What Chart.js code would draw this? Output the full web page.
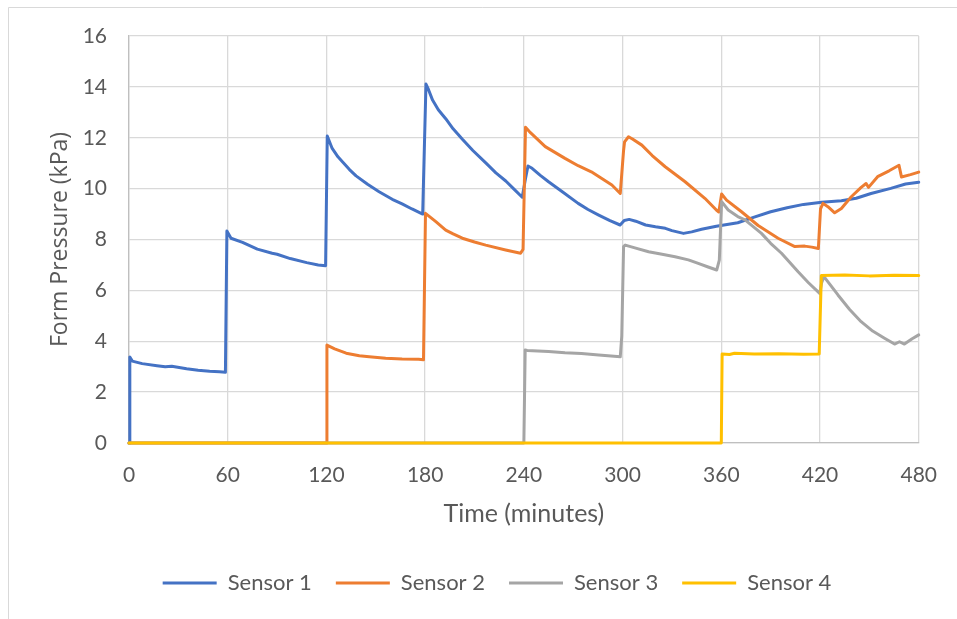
<!DOCTYPE html>
<html>
<head>
<meta charset="utf-8">
<title>Form Pressure</title>
<script src="https://cdn.jsdelivr.net/npm/chart.js@4.4.1/dist/chart.umd.min.js"></script>
<style>
  html, body { margin: 0; padding: 0; background: #ffffff; }
  #wrap { position: relative; width: 957px; height: 619px; }
  canvas { display: block; }
</style>
</head>
<body>
<div id="wrap"><canvas id="chart" width="957" height="619"></canvas></div>
<script>
// Form pressure readings, [time in minutes, pressure in kPa]
const sensor1 = [
  [0, 0], [0.5, 3.38], [2, 3.22], [8, 3.12], [17, 3.04], [22, 3.0], [26, 3.02], [35, 2.92],
  [42, 2.86], [49, 2.82], [55, 2.8], [58.6, 2.78],
  [59.5, 8.33], [62, 8.05], [69, 7.89], [78, 7.62], [87, 7.46], [90, 7.42], [98, 7.25],
  [108, 7.09], [115, 7.0], [119.5, 6.97],
  [120.5, 12.07], [123.5, 11.58], [127, 11.25], [130, 11.04], [134, 10.75], [138, 10.5],
  [145, 10.17], [152, 9.88], [160, 9.58], [166, 9.4], [172, 9.2], [178.5, 9.0],
  [180.5, 14.11], [182, 13.9], [184.5, 13.48], [188, 13.1], [192.5, 12.75], [197, 12.35],
  [202.5, 11.95], [209, 11.5], [217, 11.0], [223, 10.62], [229, 10.3], [234, 9.98], [239, 9.66],
  [241, 10.4], [242.5, 10.89], [245, 10.8], [250, 10.52], [255, 10.27], [264, 9.85], [273, 9.42],
  [279, 9.18], [285.5, 8.96], [292, 8.75], [298.5, 8.57], [301, 8.75], [304, 8.79], [308, 8.72],
  [314, 8.57], [320, 8.5], [326, 8.44], [330, 8.35], [337, 8.24], [342, 8.3], [348, 8.4], [357, 8.52],
  [370, 8.66], [380, 8.88], [390, 9.09], [400, 9.25], [410, 9.38], [421, 9.46],
  [433, 9.52], [442, 9.62], [451, 9.81], [463, 10.01], [472, 10.18], [480, 10.25]
];
const sensor2 = [
  [0, 0], [120, 0], [120.3, 3.85], [125, 3.7], [132, 3.53], [140, 3.43], [146, 3.39],
  [156, 3.33], [166, 3.3], [176, 3.29], [179, 3.27],
  [180.2, 9.03], [186.5, 8.7], [192.5, 8.37], [197, 8.22], [202.6, 8.05], [210, 7.9],
  [216.8, 7.78], [228.9, 7.59], [238, 7.46], [239.5, 7.61],
  [241, 12.41], [244, 12.2], [253, 11.65], [265, 11.19], [273, 10.9], [281, 10.66],
  [293.5, 10.14], [298.6, 9.81],
  [300.6, 11.5], [301.2, 11.84], [303.6, 12.04], [306, 11.95], [311.7, 11.71], [318, 11.3],
  [325.9, 10.86], [338, 10.27], [350, 9.62], [357, 9.16], [358.5, 9.08],
  [360.2, 9.79], [363.2, 9.55], [372.3, 9.09], [382.4, 8.55], [394.5, 8.05], [404.7, 7.72],
  [410.7, 7.74], [415, 7.7], [419, 7.65],
  [420.3, 9.2], [421.8, 9.42], [424.8, 9.29], [428.9, 9.05], [433, 9.22], [439, 9.68],
  [445, 10.05], [448, 10.2], [449.5, 10.05], [455, 10.47], [462, 10.7], [468, 10.92],
  [469.5, 10.46], [475, 10.55], [480, 10.65]
];
const sensor3 = [
  [0, 0], [240, 0], [240.8, 3.66], [242, 3.64], [255, 3.6], [265, 3.55], [275, 3.52],
  [285.5, 3.46], [298.6, 3.39],
  [299.5, 4.2], [300.6, 7.72], [301.6, 7.78], [308, 7.66], [315.8, 7.52], [324, 7.42],
  [331.9, 7.32], [340, 7.2], [346, 7.06], [352, 6.92], [357.2, 6.8],
  [358.8, 7.19], [360.2, 9.49], [364.2, 9.16], [370, 8.9], [374.4, 8.77], [384.4, 8.24],
  [390, 7.85], [396.6, 7.46], [406.7, 6.73], [413, 6.3], [419.8, 5.88],
  [421, 6.3], [422.4, 6.54], [430.9, 5.82], [438, 5.25], [445, 4.77], [452, 4.4],
  [459.2, 4.12], [465.3, 3.89], [468.3, 3.98], [471.3, 3.89], [476, 4.1], [480, 4.25]
];
const sensor4 = [
  [0, 0], [360, 0], [360.5, 3.5], [365, 3.48], [368, 3.53], [380, 3.5], [395, 3.51],
  [410, 3.49], [419.5, 3.5],
  [420.8, 6.58], [435, 6.6], [450, 6.57], [465, 6.59], [480, 6.58]
];

const seriesNames = ['Sensor 1', 'Sensor 2', 'Sensor 3', 'Sensor 4'];
const seriesData = [sensor1, sensor2, sensor3, sensor4];
const seriesColors = ['#4472C4', '#ED7D31', '#A5A5A5', '#FFC000'];

const xTitle = 'Time (minutes)';
const yTitle = 'Form Pressure (kPa)';

const textColor = '#595959';
const gridColor = '#D9D9D9';

// White background and the thin outer frame of the chart
const framePlugin = {
  id: 'frame',
  beforeDraw(chart) {
    const c = chart.ctx;
    c.save();
    c.fillStyle = '#ffffff';
    c.fillRect(0, 0, chart.width, chart.height);
    c.strokeStyle = '#D9D9D9';
    c.lineWidth = 1;
    c.beginPath();
    c.moveTo(8.5, chart.height);
    c.lineTo(8.5, 7.5);
    c.lineTo(chart.width, 7.5);
    c.stroke();
    c.restore();
  }
};

const datasets = seriesData.map((rows, i) => ({
  label: seriesNames[i],
  data: rows.map(([t, p]) => ({ x: t, y: p })),
  borderColor: seriesColors[i],
  backgroundColor: seriesColors[i],
  borderWidth: 3,
  borderCapStyle: 'round',
  borderJoinStyle: 'round',
  pointRadius: 0,
  tension: 0,
  fill: false,
  clip: false,
  order: seriesData.length - 1 - i
}));

new Chart(document.getElementById('chart'), {
  type: 'line',
  data: { datasets },
  plugins: [framePlugin],
  options: {
    responsive: false,
    animation: false,
    events: [],
    layout: { padding: { left: 73, right: 36, top: 36, bottom: 15 } },
    plugins: {
      tooltip: { enabled: false },
      legend: {
        position: 'bottom',
        labels: {
          usePointStyle: true,
          pointStyle: 'line',
          pointStyleWidth: 54,
          padding: 24,
          color: textColor,
          font: { family: 'Lato', size: 22 },
          sort: (a, b) => a.datasetIndex - b.datasetIndex
        }
      }
    },
    scales: {
      x: {
        type: 'linear',
        min: 0,
        max: 480,
        ticks: {
          stepSize: 60,
          padding: 20,
          color: textColor,
          font: { family: 'Lato', size: 21 },
          maxRotation: 0,
          autoSkip: false
        },
        grid: { color: gridColor, lineWidth: 1.3, drawTicks: false },
        border: { color: '#BFBFBF', width: 1.3 },
        title: {
          display: true,
          text: xTitle,
          color: textColor,
          font: { family: 'Lato', size: 25 },
          padding: { top: 0, bottom: 19 }
        },
        afterFit: (scale) => { scale.height = 105; }
      },
      y: {
        min: 0,
        max: 16,
        ticks: {
          stepSize: 2,
          padding: 22,
          color: textColor,
          font: { family: 'Lato', size: 21 }
        },
        grid: { color: gridColor, lineWidth: 1.3, drawTicks: false },
        border: { color: '#BFBFBF', width: 1.3 },
        title: {
          display: true,
          text: yTitle,
          color: textColor,
          font: { family: 'Open Sans', size: 23 },
          padding: { top: -26.8, bottom: 0 }
        },
        afterFit: (scale) => { scale.width = 56; }
      }
    }
  }
});
</script>
</body>
</html>
